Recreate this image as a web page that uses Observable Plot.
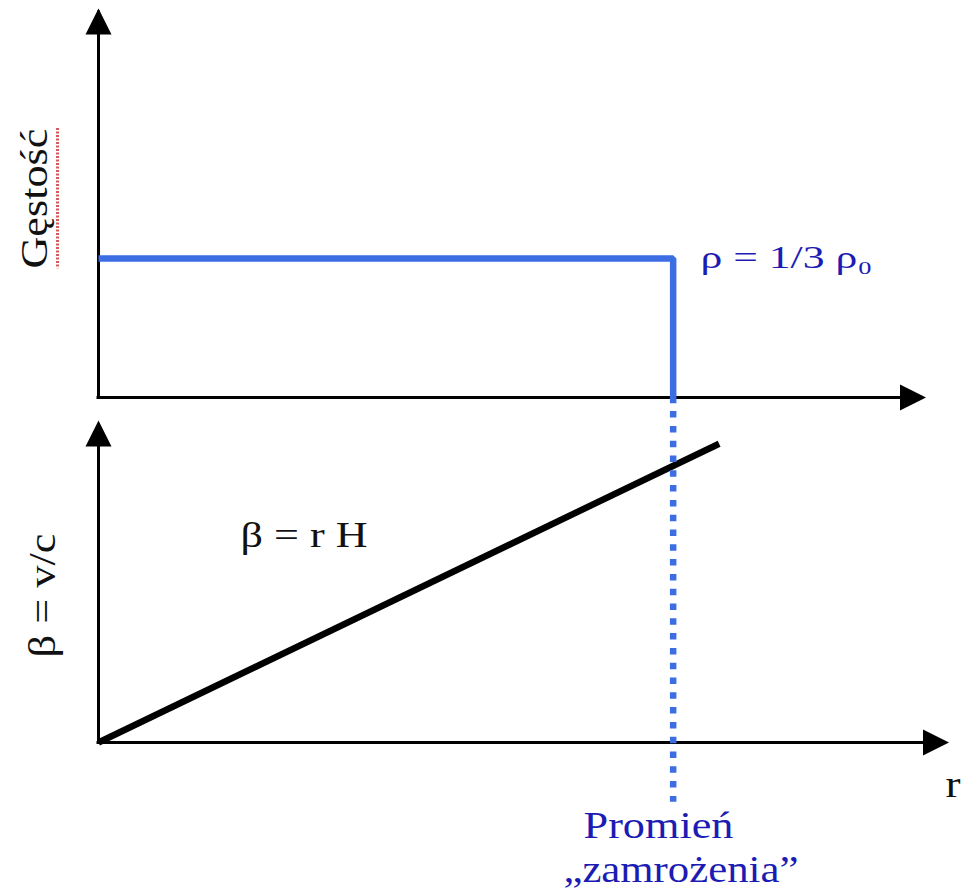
<!DOCTYPE html>
<html>
<head>
<meta charset="utf-8">
<script src="https://cdn.jsdelivr.net/npm/d3@7"></script>
<script src="https://cdn.jsdelivr.net/npm/@observablehq/plot@0.6"></script>
<style>
  body { margin: 0; background: #fff; }
  #chart { width: 972px; line-height: 0; }
  #chart svg { display: block; }
</style>
</head>
<body>
<div id="chart"></div>
<script>
// ---------- data (data units: r in units of the "freeze" radius) ----------
const freezeRadius = 1.0;                    // r at which the density drops
const densityLevel = 1 / 3;                  // ρ = 1/3 ρ0
const hubbleH = 0.5;                         // β = r H
const densityR   = [0, 1.0, 1.0];
const densityRho = [1 / 3, 1 / 3, -0.014];
const velocityR    = [0, 1.08];
const velocityBeta = [0, 0.54];
const topAxisEnds    = [1.44, 0.933];        // x-arrow tip r, y-arrow tip ρ
const bottomAxisEnds = [1.48, 0.582];        // x-arrow tip r, y-arrow tip β
const freezeDotted = [0.598, -0.108];        // extent of dotted line (β units)
const topLabels    = ["Gęstość", "ρ = 1/3 ρ₀"];
const bottomLabels = ["β = v/c", "β = r H", "r", "Promień", "„zamrożenia”"];

// ---------- helpers ----------
const serif = "'Liberation Serif', 'Times New Roman', serif";
const textBlue = "#1c1cb4";
const lineBlue = "#3d6de3";

const arrowHead = {
  draw(context, size) {
    const r = Math.sqrt(size / Math.PI);
    context.moveTo(0, 0);
    context.lineTo(r, 2 * r);
    context.lineTo(-r, 2 * r);
    context.closePath();
  }
};

const textLengths = {
  "Gęstość": 140,
  "ρ = 1/3 ρ₀": 172,
  "β = v/c": 124,
  "β = r H": 127,
  "r": 15,
  "Promień": 150,
  "„zamrożenia”": 235
};
function stretchText(svg) {
  d3.select(svg).selectAll("text").each(function () {
    const L = textLengths[this.textContent];
    if (L) {
      this.setAttribute("textLength", L);
      this.setAttribute("lengthAdjust", "spacingAndGlyphs");
    }
  });
  return svg;
}

function axesMarks(ends) {
  return [
    Plot.ruleY([0], {x1: 0, x2: ends[0] - 0.01, stroke: "black", strokeWidth: 3, strokeLinecap: "square"}),
    Plot.ruleX([0], {y1: 0, y2: ends[1] - 0.01, stroke: "black", strokeWidth: 3, strokeLinecap: "square"}),
    Plot.dot([[ends[0], 0]], {x: d => d[0], y: d => d[1], symbol: arrowHead, r: 13, rotate: 90, fill: "black", stroke: "none"}),
    Plot.dot([[0, ends[1]]], {x: d => d[0], y: d => d[1], symbol: arrowHead, r: 13, rotate: 0, fill: "black", stroke: "none"})
  ];
}

// ---------- top panel: density ----------
const densityPanel = Plot.plot({
  width: 972, height: 405,
  marginLeft: 98, marginRight: 12, marginTop: 0, marginBottom: 8,
  x: {domain: [0, 1.5], axis: null},
  y: {domain: [0, 0.952], axis: null},
  style: {background: "white", overflow: "visible"},
  marks: [
    ...axesMarks(topAxisEnds),
    Plot.line(densityR.map((r, i) => [r, densityRho[i]]), {
      x: d => d[0], y: d => d[1], stroke: lineBlue, strokeWidth: 6.5,
      strokeLinejoin: "miter", strokeLinecap: "butt"
    }),
    // spell-check underline beside the rotated label
    Plot.ruleX([-0.0713], {y1: 0.645, y2: 0.309, stroke: "#d23a3a", strokeWidth: 3, strokeDasharray: "2,1.5", strokeOpacity: 0.85}),
    Plot.text([topLabels[0]], {x: -0.110, y: 0.477, text: d => d, rotate: -90,
      textAnchor: "middle", lineAnchor: "middle", fontSize: 38, fontFamily: serif, fill: "#111"}),
    Plot.text([topLabels[1]], {x: 1.0476, y: 0.334, text: d => d,
      textAnchor: "start", lineAnchor: "middle", fontSize: 32, fontFamily: serif, fill: textBlue})
  ]
});

// ---------- bottom panel: velocity ----------
const velocityPanel = Plot.plot({
  width: 972, height: 490,
  marginLeft: 98, marginRight: 12, marginTop: 5, marginBottom: 153,
  x: {domain: [0, 1.5], axis: null},
  y: {domain: [0, 0.6], axis: null},
  style: {background: "white", overflow: "visible"},
  marks: [
    ...axesMarks(bottomAxisEnds),
    Plot.line(velocityR.map((r, i) => [r, velocityBeta[i]]), {
      x: d => d[0], y: d => d[1], stroke: "black", strokeWidth: 6.5, strokeLinecap: "butt"
    }),
    Plot.ruleX([freezeRadius], {y1: freezeDotted[0], y2: freezeDotted[1], stroke: lineBlue,
      strokeWidth: 6.5, strokeDasharray: "6.5,8.3"}),
    Plot.text([bottomLabels[0]], {x: -0.0961, y: 0.2657, text: d => d, rotate: -90,
      textAnchor: "middle", lineAnchor: "middle", fontSize: 38, fontFamily: serif, fill: "#111"}),
    Plot.text([bottomLabels[1]], {x: 0.2471, y: 0.3727, text: d => d,
      textAnchor: "start", lineAnchor: "middle", fontSize: 35, fontFamily: serif, fill: "#111"}),
    Plot.text([bottomLabels[2]], {x: 1.474, y: -0.0773, text: d => d,
      textAnchor: "start", lineAnchor: "middle", fontSize: 38, fontFamily: serif, fill: "#111"}),
    Plot.text([bottomLabels[3]], {x: 0.844, y: -0.1514, text: d => d,
      textAnchor: "start", lineAnchor: "middle", fontSize: 38, fontFamily: serif, fill: textBlue}),
    Plot.text([bottomLabels[4]], {x: 0.809, y: -0.231, text: d => d,
      textAnchor: "start", lineAnchor: "middle", fontSize: 38, fontFamily: serif, fill: textBlue})
  ]
});

const chart = document.getElementById("chart");
chart.appendChild(stretchText(densityPanel));
chart.appendChild(stretchText(velocityPanel));
</script>
</body>
</html>
